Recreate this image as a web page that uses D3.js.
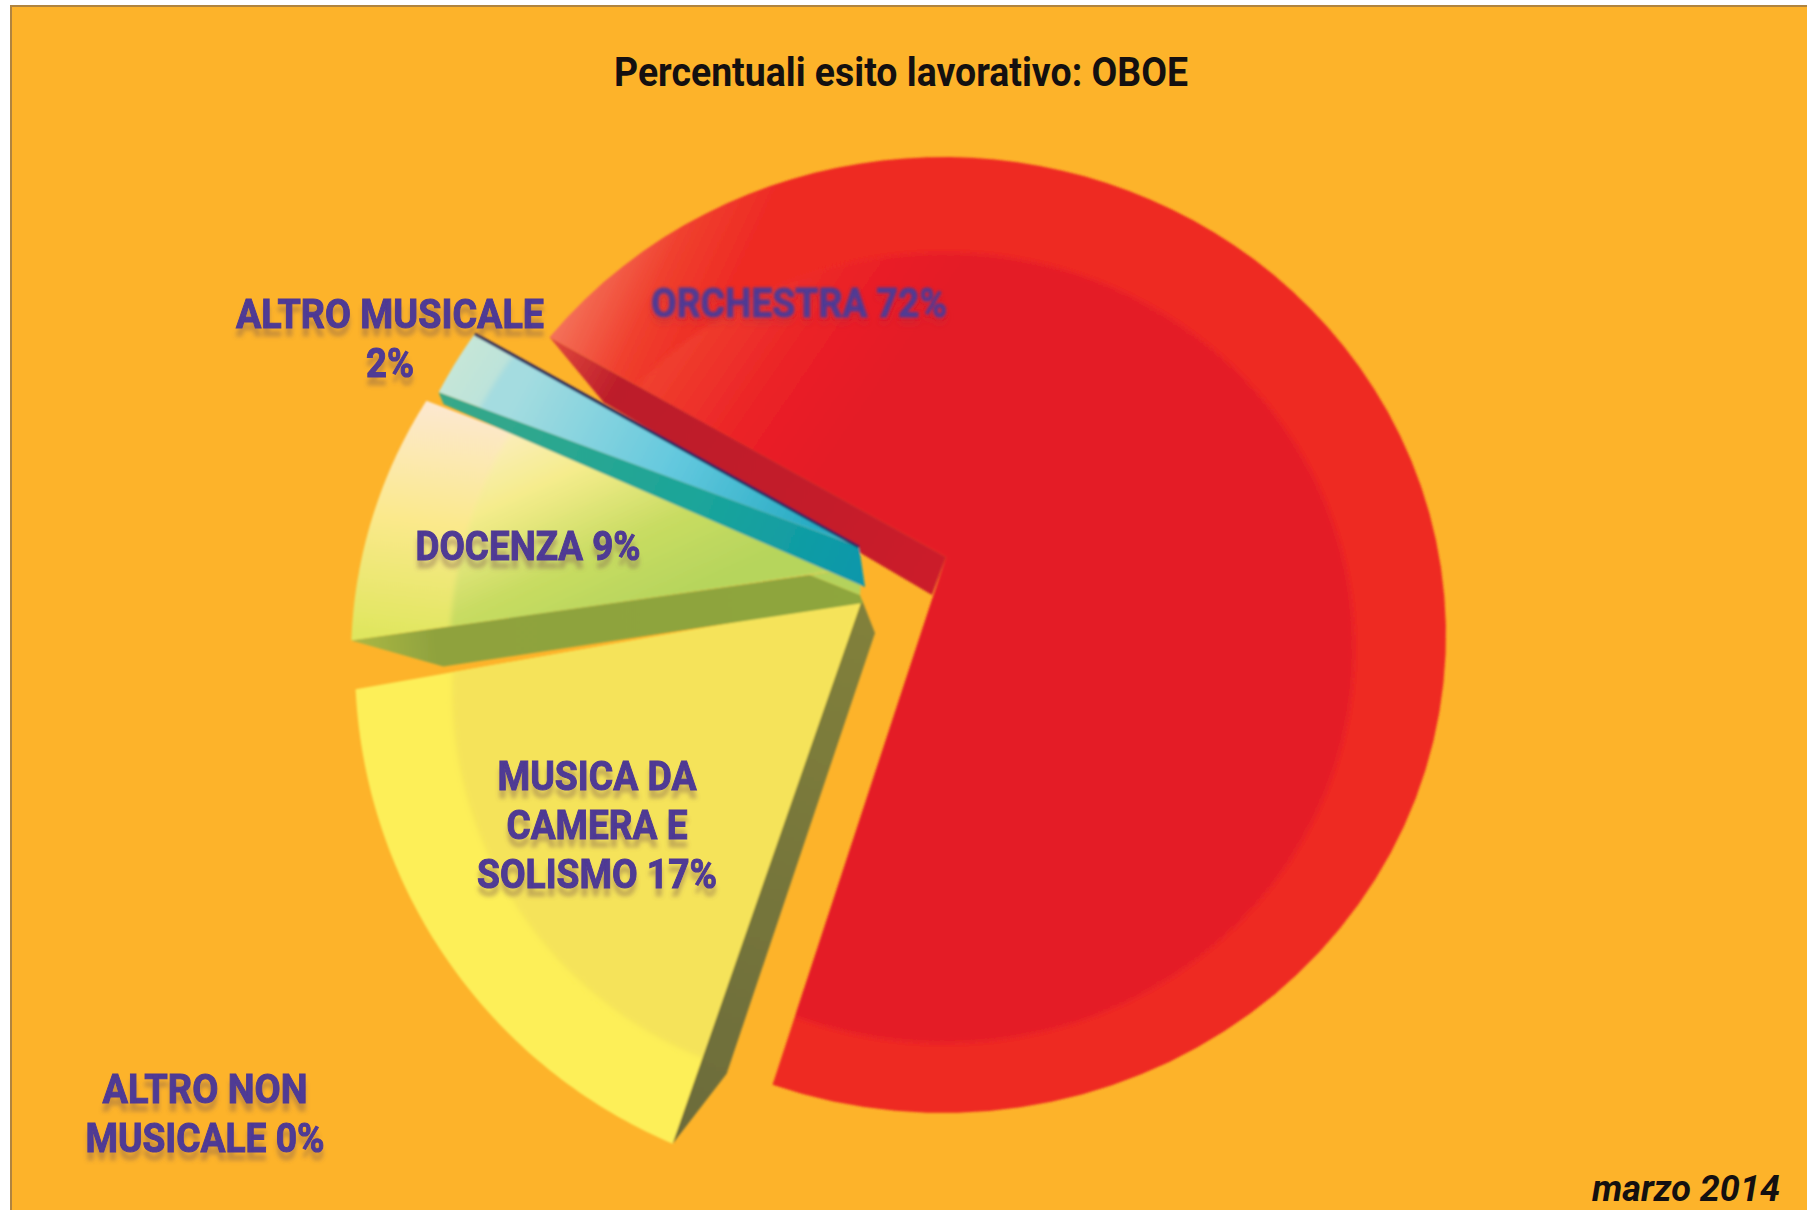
<!DOCTYPE html>
<html>
<head>
<meta charset="utf-8">
<style>
  body { margin: 0; background: #fff; }
  svg { display: block; }
</style>
</head>
<body>
<div id="wrapper"></div>
<script src="https://cdn.jsdelivr.net/npm/d3@7"></script>
<script>
const titleText = "Percentuali esito lavorativo: OBOE";
const dateText = "marzo 2014";
const categories = ["ORCHESTRA", "ALTRO NON MUSICALE", "MUSICA DA CAMERA E SOLISMO", "DOCENZA", "ALTRO MUSICALE"];
const percentages = [72, 0, 17, 9, 2];

const width = 1807;
const height = 1210;
const rad = deg => deg * Math.PI / 180;

// Every slice is exploded on its own: apex = tip of the top face, rim/inner = ellipses the rays end on
const sliceLayout = {
  "ORCHESTRA": {
    apex: [946, 557], rim: [943, 635, 503, 478], inner: [944, 648, 410, 395],
    fills: ["redRim", "redFace"], wall: { tip: [-14, 38], corner: [54, 65], fill: "redWall" }
  },
  "MUSICA DA CAMERA E SOLISMO": {
    apex: [862, 600], rim: [876, 664, 521, 521], inner: [848, 690, 396, 396], trim: [1, 0.6],
    fills: ["#fdef58", "#f5e35a"], wall: { tip: [13, 33], corner: [54, -70], fill: "yellowWall" }
  },
  "DOCENZA": {
    apex: [862, 567], rim: [831, 659, 480, 480], inner: [870, 650, 420, 420], trim: [2.4, -0.9],
    fills: ["docRim", "docFace"],
    wall: { tip: [1, 36], shoulder: [[-2, 28], [-52, 8]], corner: [92, 26], fill: "docWall", patch: "#b4d25c" }
  },
  "ALTRO MUSICALE": {
    apex: [859, 547], rim: [876, 622, 494, 494], inner: [876, 622, 450, 450], trim: [-1.6, 0],
    fills: ["altRim", "altFace"], wall: { tip: [6, 40], corner: [5, 12], fill: "altWall" }
  }
};

// baseline y of first line, line gap, centre x, width of each line, words on each line
const labelLayout = {
  "ORCHESTRA": { x: 799, y: 317, gap: 0, widths: [296], words: [2], blur: "labelSoft" },
  "ALTRO NON MUSICALE": { x: 205, y: 1103, gap: 49, widths: [205, 239], words: [2, 2], blur: "label" },
  "MUSICA DA CAMERA E SOLISMO": { x: 597, y: 790, gap: 49, widths: [199, 181, 240], words: [2, 2, 2], blur: "label" },
  "DOCENZA": { x: 528, y: 560, gap: 0, widths: [225], words: [2], blur: "label" },
  "ALTRO MUSICALE": { x: 390, y: 328, gap: 49, widths: [308, 48], words: [2, 1], blur: "label" }
};

const wrapper = d3.select("#wrapper")
  .append("svg")
    .attr("width", width)
    .attr("height", height);

const defs = wrapper.append("defs");

function addGradient(id, [x1, y1, x2, y2], stops) {
  const g = defs.append("linearGradient")
    .attr("id", id)
    .attr("gradientUnits", "userSpaceOnUse")
    .attr("x1", x1).attr("y1", y1).attr("x2", x2).attr("y2", y2);
  stops.forEach(([offset, color]) => {
    g.append("stop").attr("offset", offset).attr("stop-color", color);
  });
}

addGradient("redRim", [553, 340, 680, 400], [[0, "#f47058"], [0.5, "#f0402e"], [1, "#ee2a24"]]);
addGradient("redFace", [640, 390, 800, 500], [[0, "#f0402e"], [0.6, "#ea2026"], [1, "#e41c28"]]);
addGradient("redWall", [553, 340, 940, 570], [[0, "#e0483c"], [0.18, "#bc1c2a"], [0.7, "#c41a2a"], [1, "#cc1c2a"]]);
addGradient("yellowWall", [860, 600, 680, 1130], [[0, "#82813a"], [1, "#6c6c3a"]]);
addGradient("docRim", [430, 400, 400, 640], [[0, "#fde8d2"], [0.5, "#fbe98c"], [1, "#dfe65e"]]);
addGradient("docFace", [480, 420, 580, 640], [[0, "#fdeecb"], [0.35, "#f5ec8c"], [0.7, "#c8dc62"], [1, "#b6d55c"]]);
addGradient("docWall", [360, 640, 860, 590], [[0, "#a9b644"], [0.15, "#8fa23e"], [1, "#8ea63e"]]);
addGradient("altRim", [460, 350, 640, 470], [[0, "#c6e6d8"], [1, "#9bd8e0"]]);
addGradient("altFace", [520, 390, 860, 570], [[0, "#a4dce0"], [0.45, "#62c8de"], [1, "#0f9fb8"]]);
addGradient("altWall", [440, 400, 860, 590], [[0, "#38a888"], [0.6, "#1ba59a"], [1, "#0a97ab"]]);

const labelFilter = defs.append("filter").attr("id", "label")
  .attr("x", "-10%").attr("y", "-30%").attr("width", "120%").attr("height", "190%");
labelFilter.append("feGaussianBlur").attr("in", "SourceGraphic").attr("stdDeviation", 0.6).attr("result", "soft");
labelFilter.append("feDropShadow").attr("in", "soft").attr("dx", 0).attr("dy", 8).attr("stdDeviation", 2.2)
  .attr("flood-color", "#7a5a50").attr("flood-opacity", 0.4);

const softFilter = defs.append("filter").attr("id", "labelSoft")
  .attr("x", "-10%").attr("y", "-30%").attr("width", "120%").attr("height", "190%");
softFilter.append("feGaussianBlur").attr("in", "SourceGraphic").attr("stdDeviation", 1.7).attr("result", "soft");
softFilter.append("feDropShadow").attr("in", "soft").attr("dx", 0).attr("dy", 6).attr("stdDeviation", 3)
  .attr("flood-color", "#b03040").attr("flood-opacity", 0.4);

defs.append("filter").attr("id", "jpeg")
  .append("feGaussianBlur").attr("stdDeviation", 0.9);
defs.append("filter").attr("id", "faceEdge")
  .append("feGaussianBlur").attr("stdDeviation", 2.5);

// Background panel
wrapper.append("rect")
  .attr("x", 10).attr("y", 5)
  .attr("width", width - 10).attr("height", height - 5)
  .attr("fill", "#fdb32a");
wrapper.append("path")
  .attr("d", d3.line()([[11, height], [11, 6], [width, 6]]))
  .attr("fill", "none")
  .attr("stroke", "#b08440")
  .attr("stroke-width", 2);

// Slice angles from the percentages
const pie = d3.pie()
  .sort(null)
  .startAngle(rad(-61))
  .endAngle(rad(299));
const arcs = pie(percentages);

// Where a ray leaving the apex at this angle meets the ellipse [cx, cy, rx, ry]
function rayHit([ax, ay], [cx, cy, rx, ry], angle) {
  const dx = Math.sin(angle), dy = -Math.cos(angle);
  const ox = (ax - cx) / rx, oy = (ay - cy) / ry;
  const ux = dx / rx, uy = dy / ry;
  const a = ux * ux + uy * uy;
  const b = 2 * (ox * ux + oy * uy);
  const c = ox * ox + oy * oy - 1;
  const t = (-b + Math.sqrt(b * b - 4 * a * c)) / (2 * a);
  return [ax + t * dx, ay + t * dy];
}

function wedgePoints(d, apex, ellipse, trim) {
  const start = d.startAngle + rad(trim[0]);
  const end = d.endAngle + rad(trim[1]);
  const steps = d3.range(0, 1.0001, 1 / 80).map(t => start + t * (end - start));
  return [apex, ...steps.map(a => rayHit(apex, ellipse, a))];
}

const line = d3.line();
const marks = wrapper.append("g").attr("filter", "url(#jpeg)");
const paint = f => (f.startsWith("#") ? f : `url(#${f})`);

arcs.forEach((d, i) => {
  const layout = sliceLayout[categories[i]];
  if (!layout) return; // 0% slice draws nothing

  const trim = layout.trim || [0, 0];
  const rimPoints = wedgePoints(d, layout.apex, layout.rim, trim);
  const group = marks.append("g").attr("class", "slice");

  group.append("path")
    .attr("d", line(rimPoints) + "Z")
    .attr("fill", paint(layout.fills[0]));

  // inner face sits on the rim, its round edge is soft in the picture
  const clipId = `clip${i}`;
  defs.append("clipPath").attr("id", clipId)
    .append("path").attr("d", line(rimPoints) + "Z");
  group.append("g")
    .attr("clip-path", `url(#${clipId})`)
    .append("path")
      .attr("d", line(wedgePoints(d, layout.apex, layout.inner, [trim[0] - 3, trim[1] + 3])) + "Z")
      .attr("fill", paint(layout.fills[1]))
      .attr("filter", "url(#faceEdge)");

  // side wall hanging off the start edge of the slice
  const corner = rimPoints[1];
  const [ax, ay] = layout.apex;
  const wall = layout.wall;
  const shift = ([dx, dy]) => [ax + dx, ay + dy];
  group.append("path")
    .attr("d", line([
      corner,
      [corner[0] + wall.corner[0], corner[1] + wall.corner[1]],
      shift(wall.tip),
      ...(wall.shoulder || [[0, 0]]).map(shift)
    ]) + "Z")
    .attr("fill", paint(wall.fill));

  // green sliver between the wall and the tip
  if (wall.patch) {
    group.append("path")
      .attr("d", line([...wall.shoulder.map(shift), layout.apex]) + "Z")
      .attr("fill", wall.patch);
  }

  // dark edge on the top of the small teal slice
  if (categories[i] === "ALTRO MUSICALE") {
    group.append("path")
      .attr("d", line([rimPoints[rimPoints.length - 1], layout.apex]))
      .attr("stroke", "#25225e")
      .attr("stroke-width", 3)
      .attr("fill", "none");
  }
});

// Labels
categories.forEach((name, i) => {
  const layout = labelLayout[name];
  const words = `${name} ${percentages[i]}%`.split(" ");
  let used = 0;
  layout.words.forEach((count, row) => {
    const rowText = words.slice(used, used + count).join(" ");
    used += count;
    wrapper.append("text")
      .attr("x", layout.x)
      .attr("y", layout.y + row * layout.gap)
      .attr("text-anchor", "middle")
      .attr("textLength", layout.widths[row])
      .attr("lengthAdjust", "spacingAndGlyphs")
      .attr("filter", `url(#${layout.blur})`)
      .style("font-family", "Roboto, sans-serif")
      .style("font-weight", 700)
      .style("font-size", "41px")
      .attr("fill", "#4f3a94")
      .attr("stroke", "#4f3a94")
      .attr("stroke-width", 1)
      .text(rowText);
  });
});

// Title and date
wrapper.append("text")
  .attr("x", 901)
  .attr("y", 86)
  .attr("text-anchor", "middle")
  .attr("textLength", 574)
  .attr("lengthAdjust", "spacingAndGlyphs")
  .style("font-family", "Roboto, sans-serif")
  .style("font-weight", 700)
  .style("font-size", "41px")
  .attr("fill", "#141010")
  .text(titleText);

wrapper.append("text")
  .attr("x", 1780)
  .attr("y", 1201)
  .attr("text-anchor", "end")
  .style("font-family", "Roboto, sans-serif")
  .style("font-weight", 700)
  .style("font-style", "italic")
  .style("font-size", "36px")
  .attr("fill", "#141010")
  .text(dateText);
</script>
</body>
</html>
